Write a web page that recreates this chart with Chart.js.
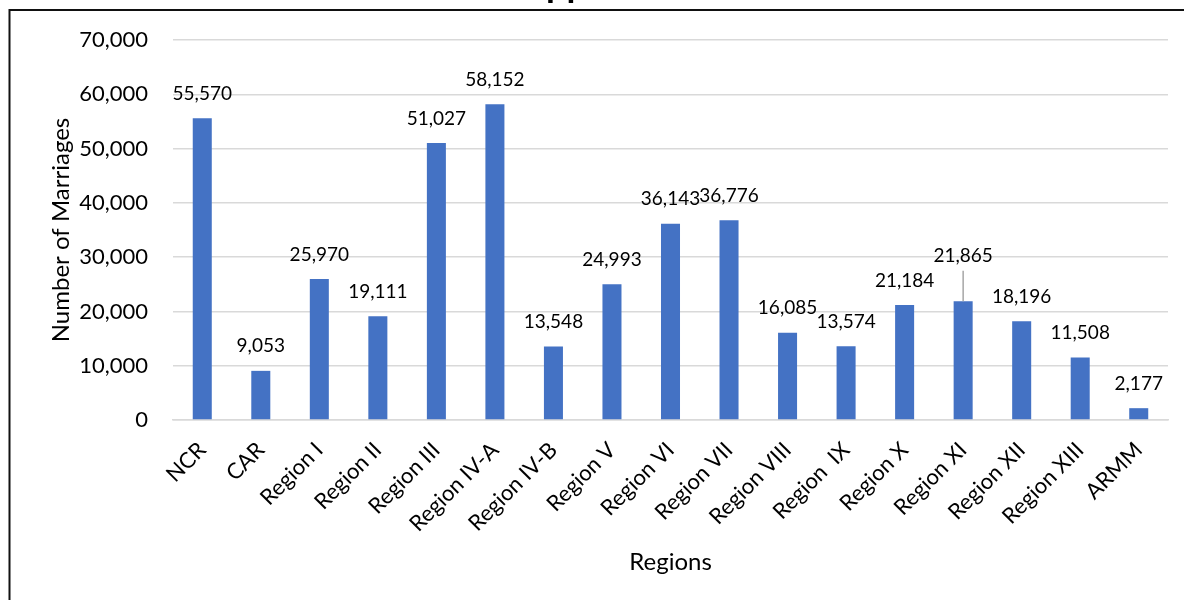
<!DOCTYPE html>
<html>
<head>
<meta charset="utf-8">
<script src="https://cdn.jsdelivr.net/npm/chart.js@4"></script>
<style>
  html, body { margin: 0; padding: 0; background: #fff; }
  #wrap { width: 1184px; height: 600px; position: relative; }
</style>
</head>
<body>
<div id="wrap"><canvas id="marriageChart" width="1184" height="600"></canvas></div>
<script>
const regions = ["NCR", "CAR", "Region I", "Region II", "Region III", "Region IV-A", "Region IV-B", "Region V",
  "Region VI", "Region VII", "Region VIII", "Region  IX", "Region X", "Region XI", "Region XII", "Region XIII", "ARMM"];
const marriages = [55570, 9053, 25970, 19111, 51027, 58152, 13548, 24993, 36143, 36776, 16085, 13574, 21184, 21865, 18196, 11508, 2177];
const yMin = 0;
const yMax = 70000;
const yStep = 10000;

const FONT = "Lato, 'Open Sans', sans-serif";

// value labels above each bar; the Region XI one was dragged up with a leader line
const valueLabels = {
  id: "valueLabels",
  afterDatasetsDraw(chart) {
    const c = chart.ctx;
    const meta = chart.getDatasetMeta(0);
    c.save();
    c.font = "19px " + FONT;
    c.fillStyle = "#000";
    c.textAlign = "center";
    c.textBaseline = "middle";
    meta.data.forEach((bar, i) => {
      const lift = i === 13 ? 21 : 0;
      const y = bar.y - 24.5 - lift;
      c.fillText(marriages[i].toLocaleString("en-US"), bar.x, y);
      if (lift) {
        c.strokeStyle = "#a6a6a6";
        c.lineWidth = 1.5;
        c.beginPath();
        c.moveTo(bar.x, y + 15);
        c.lineTo(bar.x, bar.y);
        c.stroke();
      }
    });
    c.restore();
  }
};

// chart frame and the clipped title above it
const frame = {
  id: "frame",
  afterDraw(chart) {
    const c = chart.ctx;
    c.save();
    c.font = "bold 36px " + FONT;
    c.fillStyle = "#000";
    c.textAlign = "left";
    c.textBaseline = "alphabetic";
    const pre = c.measureText("Phili").width;
    c.fillText("Philippines", 546 - pre, -3);
    c.strokeStyle = "#111";
    c.lineWidth = 2;
    c.beginPath();
    c.moveTo(9.5, 600);
    c.lineTo(9.5, 10);
    c.lineTo(1184, 10);
    c.stroke();
    c.restore();
  }
};

const ctx = document.getElementById("marriageChart");

// eslint-disable-next-line no-unused-vars
const myChart = new Chart(ctx, {
  type: "bar",
  data: {
    labels: regions,
    datasets: [
      {
        label: "Number of Marriages",
        data: marriages,
        backgroundColor: "#4472C4",
        borderWidth: 0,
        categoryPercentage: 1,
        barPercentage: 0.325
      }
    ]
  },
  options: {
    responsive: false,
    animation: false,
    layout: { padding: { top: 40, right: 16, bottom: 0, left: 47 } },
    plugins: {
      legend: { display: false },
      tooltip: { enabled: false }
    },
    scales: {
      x: {
        grid: { display: false, drawTicks: false },
        border: { color: "#d9d9d9", width: 1.5 },
        ticks: {
          color: "#000",
          font: { family: FONT, size: 22 },
          minRotation: 45,
          maxRotation: 45,
          autoSkip: false,
          padding: 17
        },
        title: {
          display: true,
          text: "Regions",
          color: "#000",
          font: { family: FONT, size: 24 },
          padding: { top: 0, bottom: 23 }
        },
        afterFit: s => {
          s.paddingLeft = 0;
          s.paddingRight = 0;
          s.height = 180;
        }
      },
      y: {
        min: yMin,
        max: yMax,
        grid: { color: "#d9d9d9", lineWidth: 1.5, drawTicks: false },
        border: { display: false },
        ticks: {
          stepSize: yStep,
          color: "#000",
          font: { family: FONT, size: 22 },
          padding: 25,
          callback: v => v.toLocaleString("en-US")
        },
        title: {
          display: true,
          text: "Number of Marriages",
          color: "#000",
          font: { family: FONT, size: 24 },
          padding: { top: 0, bottom: 4 }
        },
        afterFit: s => {
          s.width = 126;
        }
      }
    }
  },
  plugins: [valueLabels, frame]
});
</script>
</body>
</html>
